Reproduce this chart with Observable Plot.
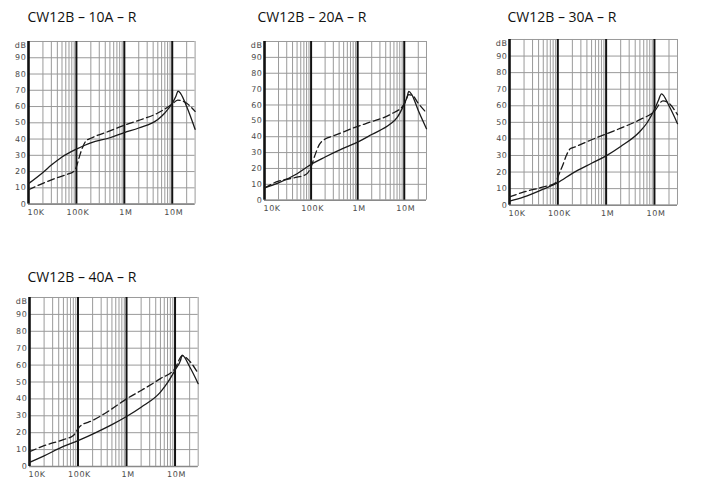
<!DOCTYPE html>
<html><head><meta charset="utf-8">
<script src="https://cdn.jsdelivr.net/npm/d3@7"></script>
<script src="https://cdn.jsdelivr.net/npm/@observablehq/plot@0.6"></script>
<style>
body{margin:0;background:#fff;width:705px;height:501px;position:relative;overflow:hidden;font-family:"Open Sans",sans-serif}
.title{position:absolute;font-size:14px;color:#111;white-space:nowrap;line-height:1}
.chart{position:absolute}
.chart text{letter-spacing:0.6px}
</style></head><body>
<script>
// ---- labels / ticks ----
const titles = ["CW12B – 10A – R", "CW12B – 20A – R", "CW12B – 30A – R", "CW12B – 40A – R"];
const xTicks = [1e4, 1e5, 1e6, 1e7];
const xTickLabels = ["10K", "100K", "1M", "10M"];
const yTicks = [0, 10, 20, 30, 40, 50, 60, 70, 80, 90, 100];
const yTickLabels = ["0", "10", "20", "30", "40", "50", "60", "70", "80", "90", "dB"];
const minorMultipliers = [2, 3, 4, 5, 6, 7, 8, 9];
const xMax = 3e7;

// ---- data (frequency Hz, attenuation dB) ----
const c10SolidF = [1e4, 2e4, 3e4, 5e4, 7e4, 1e5, 1.5e5, 2e5, 5e5, 1e6, 2e6, 5e6, 7e6, 1e7, 1.2e7, 1.32e7, 1.5e7, 2e7, 3e7];
const c10SolidDb = [12.6, 19.5, 24, 29, 31.5, 33.8, 36.2, 37.7, 40.8, 44, 46.8, 52, 56, 62, 66.5, 69.5, 68, 60, 46];
const c10DashF = [1e4, 2e4, 3.4e4, 6e4, 9e4, 1e5, 1.15e5, 1.35e5, 1.6e5, 2e5, 5e5, 1e6, 2e6, 5e6, 1e7, 1.3e7, 1.6e7, 2e7, 3e7];
const c10DashDb = [8.8, 12.8, 15.5, 18, 20.3, 23, 29, 35, 39, 40.5, 45, 48.5, 51.5, 56, 61.5, 64, 63.5, 62, 57];

const c20SolidF = [1e4, 2e4, 5e4, 1e5, 2e5, 5e5, 1e6, 2e6, 5e6, 7e6, 1e7, 1.15e7, 1.25e7, 1.45e7, 2e7, 3e7];
const c20SolidDb = [7.7, 10.9, 16.7, 22.6, 27.2, 32.8, 36.6, 41.4, 48, 52, 60.7, 65, 68.6, 66.5, 56.5, 45];
const c20DashF = [1e4, 2e4, 3e4, 5e4, 8e4, 1e5, 1.2e5, 1.5e5, 2e5, 3e5, 1e6, 2e6, 5e6, 1e7, 1.25e7, 1.5e7, 2e7, 3e7];
const c20DashDb = [7.7, 12, 13.2, 14.5, 16.5, 21, 28, 35, 38.5, 40.5, 46.5, 49.5, 54, 60.5, 66.5, 66, 61, 55];

const c30SolidF = [1e4, 2e4, 5e4, 1e5, 2e5, 5e5, 1e6, 2e6, 5e6, 7e6, 1e7, 1.2e7, 1.4e7, 2e7, 3e7];
const c30SolidDb = [2.4, 5, 9.7, 13.6, 19.2, 25.3, 29.8, 35.4, 44.5, 49.6, 57.7, 63, 67.2, 60, 49.2];
const c30DashF = [1e4, 2e4, 5e4, 9e4, 1e5, 1.3e5, 1.5e5, 1.8e5, 2.2e5, 5e5, 1e6, 2e6, 5e6, 1e7, 1.5e7, 2e7, 3e7];
const c30DashDb = [5, 8, 11, 13.5, 17, 25, 30, 34, 35, 39.5, 43, 46.5, 51.6, 56.7, 63, 61.5, 54.6];

const c40SolidF = [1e4, 2e4, 5e4, 1e5, 2e5, 5e5, 1e6, 2e6, 5e6, 7e6, 1e7, 1.3e7, 1.4e7, 2e7, 3e7];
const c40SolidDb = [2.4, 6.3, 11.9, 15.3, 19.2, 24.8, 29.6, 35.1, 44, 49.6, 57, 62.9, 65.9, 59, 49];
const c40DashF = [1e4, 2e4, 5e4, 8e4, 1e5, 1.1e5, 2e5, 5e5, 1e6, 2e6, 5e6, 1e7, 1.4e7, 2e7, 3e7];
const c40DashDb = [8.7, 12.3, 15.9, 18.3, 22.2, 23.8, 27.2, 34.1, 40, 45, 52, 58, 65.5, 62.3, 55];

// ---- layout (plot frame in page px) ----
const layouts = [
  {x0: 27.7, x1: 194.3, y0: 40.7, y1: 203.3, tx: 27.5, ty: 10},
  {x0: 264.3, x1: 426.3, y0: 41.3, y1: 200, tx: 257.5, ty: 10},
  {x0: 509.3, x1: 677.3, y0: 39.3, y1: 205, tx: 507.5, ty: 10},
  {x0: 29.3, x1: 198, y0: 296.7, y1: 465.7, tx: 27.5, ty: 269.5}
];
const series = [
  [c10SolidF, c10SolidDb, c10DashF, c10DashDb],
  [c20SolidF, c20SolidDb, c20DashF, c20DashDb],
  [c30SolidF, c30SolidDb, c30DashF, c30DashDb],
  [c40SolidF, c40SolidDb, c40DashF, c40DashDb]
];

const minor = [];
for (const d of xTicks) for (const m of minorMultipliers) if (d * m <= xMax) minor.push(d * m);

const ML = 30, MR = 8, MT = 12, MB = 20;
const labelMap = new Map(xTicks.map((t, i) => [t, xTickLabels[i]]));
const yLabelMap = new Map(yTicks.map((t, i) => [t, yTickLabels[i]]));
const txt = {fill: "#4a4a4a", fontFamily: "DejaVu Sans", fontSize: 8, label: null, tickSize: 0};

layouts.forEach((L, i) => {
  const [sf, sd, df, dd] = series[i];
  const solid = sf.map((f, k) => ({f, db: sd[k]}));
  const dash = df.map((f, k) => ({f, db: dd[k]}));
  const t = document.createElement("div");
  t.className = "title";
  t.style.left = L.tx + "px";
  t.style.top = L.ty + "px";
  t.textContent = titles[i];
  document.body.appendChild(t);

  const w = (L.x1 - L.x0) + ML + MR;
  const h = (L.y1 - L.y0) + MT + MB;
  const chart = Plot.plot({
    width: w, height: h,
    marginLeft: ML, marginRight: MR, marginTop: MT, marginBottom: MB,
    style: {background: "transparent", overflow: "visible"},
    x: {type: "log", domain: [1e4, xMax]},
    y: {domain: [0, 100]},
    marks: [
      Plot.ruleY(yTicks, {stroke: "#9a9a9a", strokeWidth: 1}),
      Plot.ruleX(minor, {stroke: "#9a9a9a", strokeWidth: 1}),
      Plot.ruleY([0], {stroke: "#8a8a8a", strokeWidth: 1.6}),
      Plot.ruleX(xTicks.slice(1), {stroke: "#111", strokeWidth: 2}),
      Plot.ruleX([1e4], {stroke: "#111", strokeWidth: 2.6}),
      Plot.line(solid, {x: "f", y: "db", stroke: "#1a1a1a", strokeWidth: 1.3, curve: "monotone-x"}),
      Plot.line(dash, {x: "f", y: "db", stroke: "#1a1a1a", strokeWidth: 1.3, strokeDasharray: "7,3.5", curve: "monotone-x"}),
      Plot.axisY(yTicks.slice(0, -1), {...txt, tickPadding: 2, tickFormat: d => yLabelMap.get(d)}),
      Plot.axisY([100], {...txt, tickPadding: 2, dy: 3.5, tickFormat: d => yLabelMap.get(d)}),
      Plot.axisX([1e4], {...txt, tickPadding: 5, textAnchor: "start", dx: -1, tickFormat: d => labelMap.get(d)}),
      Plot.axisX(xTicks.slice(1), {...txt, tickPadding: 5, dx: 1.5, tickFormat: d => labelMap.get(d)})
    ]
  });
  chart.classList.add("chart");
  chart.style.position = "absolute";
  chart.style.left = (L.x0 - ML) + "px";
  chart.style.top = (L.y0 - MT) + "px";
  document.body.appendChild(chart);
});
</script>
</body></html>
